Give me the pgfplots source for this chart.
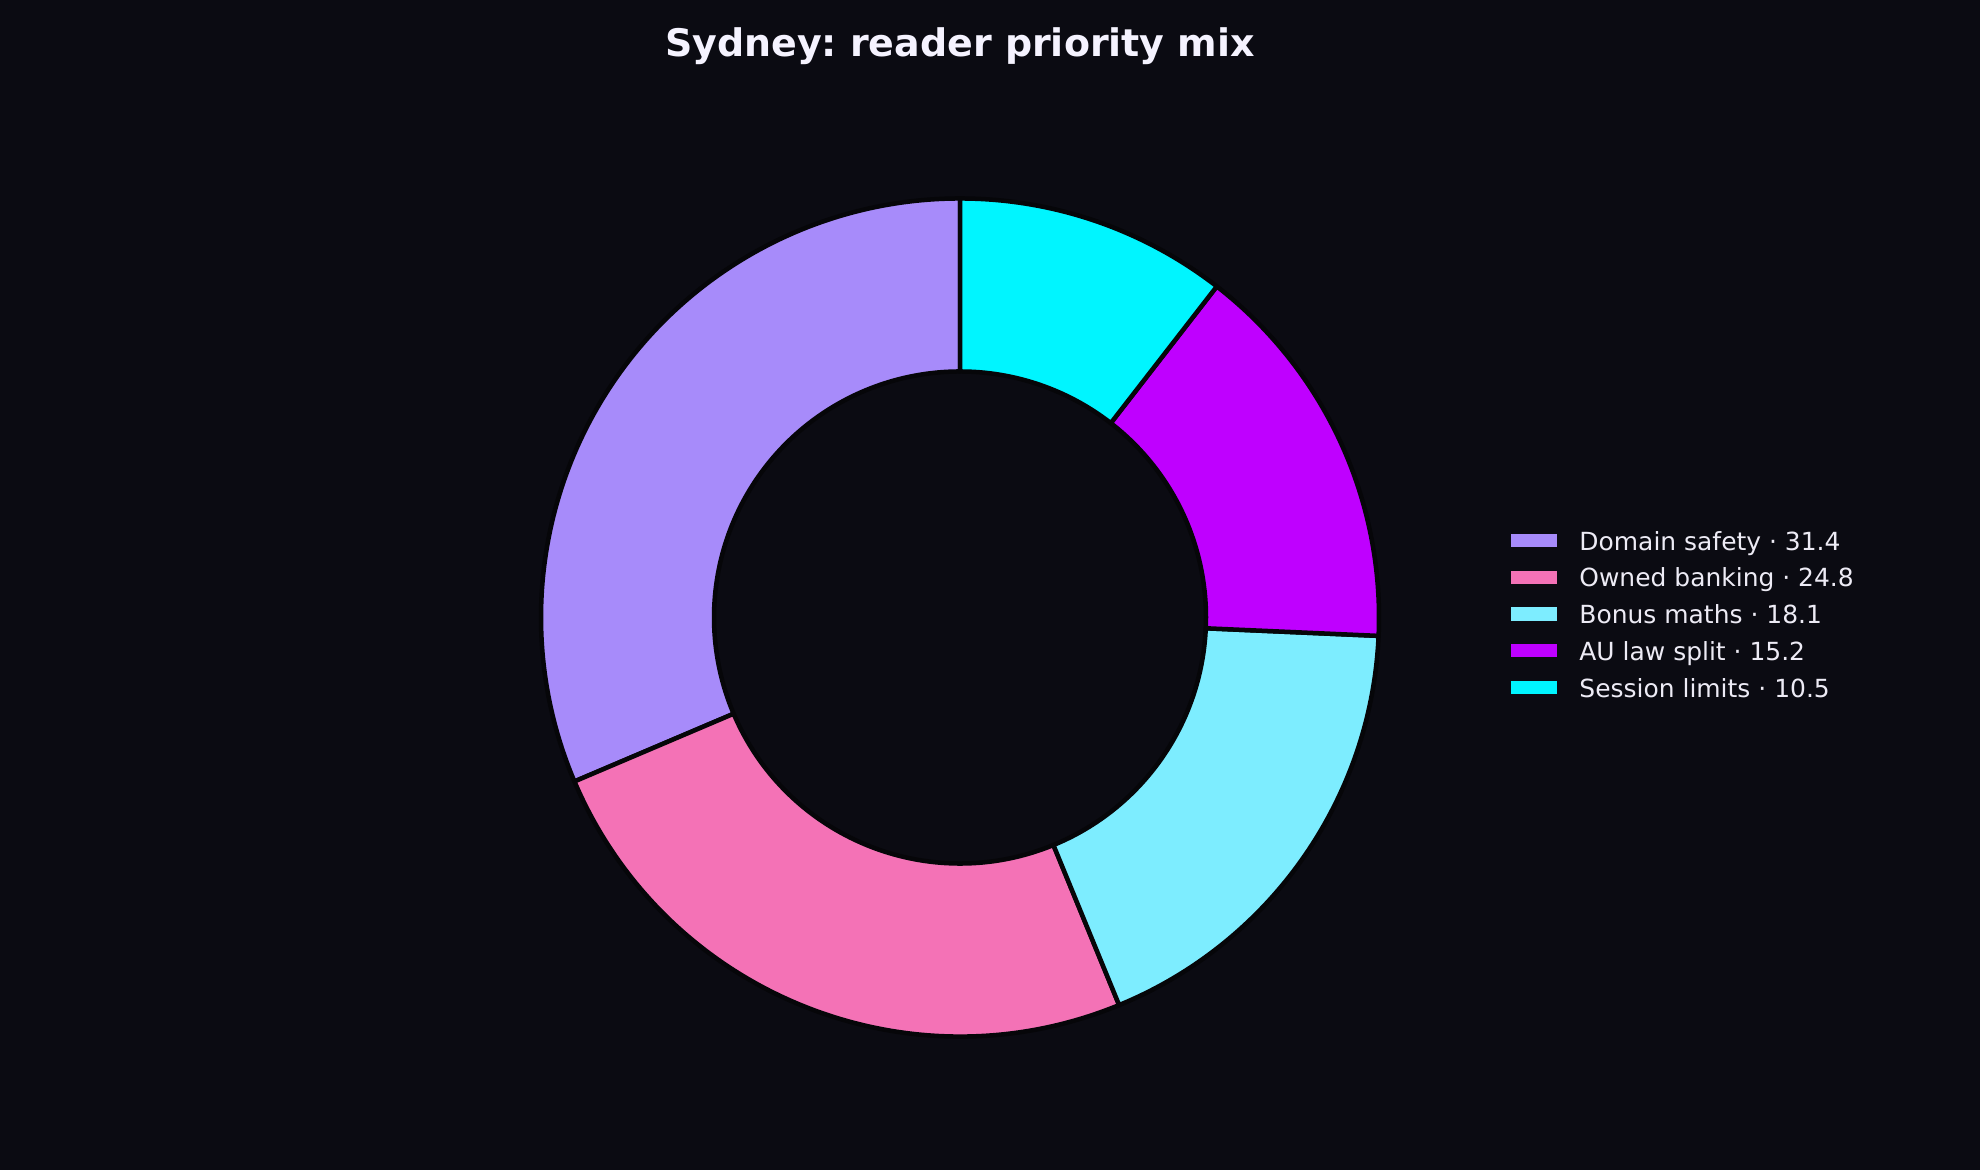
\documentclass[border=0pt]{standalone}
\usepackage{pgfplots}
\pgfplotsset{compat=1.18}
\usepackage{pgfplotstable}
\usepackage{fontspec}
\setmainfont{DejaVu Sans}
\definecolor{bg}{HTML}{0B0B12}
\definecolor{edge}{HTML}{060609}
\definecolor{cA}{HTML}{A78BFA}
\definecolor{cB}{HTML}{F472B6}
\definecolor{cC}{HTML}{7DEDFF}
\definecolor{cD}{HTML}{BF00FF}
\definecolor{cE}{HTML}{00F5FF}
\definecolor{fg}{HTML}{EDEBF5}
\definecolor{fgT}{HTML}{F5F3FF}

\pgfplotstableread[col sep=comma]{
label,value
Domain safety,31.4
Owned banking,24.8
Bonus maths,18.1
AU law split,15.2
Session limits,10.5
}\slices

\newcommand\donutwedge[3]{%
  \fill[#1, draw=edge, line width=0.45mm, line join=round]
    (axis cs:{4.19*cos(#2)},{4.19*sin(#2)})
    arc[start angle=#2, end angle=#3, radius=4.19cm]
    -- (axis cs:{2.46*cos(#3)},{2.46*sin(#3)})
    arc[start angle=#3, end angle=#2, radius=2.46cm] -- cycle;}

\begin{document}
\frenchspacing
\begin{tikzpicture}
\fill[bg] (0,0) rectangle (19.8,11.7);
\pgfmathsetmacro\aO{90}
\pgfplotstablegetelem{0}{value}\of\slices \pgfmathsetmacro\aA{\aO+3.6*\pgfplotsretval}
\pgfplotstablegetelem{1}{value}\of\slices \pgfmathsetmacro\aB{\aA+3.6*\pgfplotsretval}
\pgfplotstablegetelem{2}{value}\of\slices \pgfmathsetmacro\aC{\aB+3.6*\pgfplotsretval}
\pgfplotstablegetelem{3}{value}\of\slices \pgfmathsetmacro\aD{\aC+3.6*\pgfplotsretval}
\pgfplotstablegetelem{4}{value}\of\slices \pgfmathsetmacro\aE{\aD+3.6*\pgfplotsretval}
\begin{axis}[
  at={(0,0)}, anchor=south west, scale only axis,
  x=1cm, y=1cm, xmin=-9.6, xmax=10.2, ymin=-5.525, ymax=6.175,
  hide axis, clip=false,
  legend cell align=left,
  legend style={draw=none, fill=none, text=fg,
    font=\fontsize{7.1}{8.5}\selectfont,
    at={(axis cs:5.51,0.006)}, anchor=west,
    inner sep=0pt, outer sep=0pt, row sep=1.22mm, column sep=2.2mm,
    nodes={inner sep=0pt, text height=1.9mm, text depth=0.55mm}},
]
\donutwedge{cA}{\aO}{\aA}
\donutwedge{cB}{\aA}{\aB}
\donutwedge{cC}{\aB}{\aC}
\donutwedge{cD}{\aC}{\aD}
\donutwedge{cE}{\aD}{\aE}
\addlegendimage{legend image code/.code={\fill[cA] (0cm,-0.3mm) rectangle (4.5mm,0.87mm);}}
\addlegendentry{Domain safety · 31.4}
\addlegendimage{legend image code/.code={\fill[cB] (0cm,-0.3mm) rectangle (4.5mm,0.87mm);}}
\addlegendentry{Owned banking · 24.8}
\addlegendimage{legend image code/.code={\fill[cC] (0cm,-0.3mm) rectangle (4.5mm,0.87mm);}}
\addlegendentry{Bonus maths · 18.1}
\addlegendimage{legend image code/.code={\fill[cD] (0cm,-0.3mm) rectangle (4.5mm,0.87mm);}}
\addlegendentry{AU law split · 15.2}
\addlegendimage{legend image code/.code={\fill[cE] (0cm,-0.3mm) rectangle (4.5mm,0.87mm);}}
\addlegendentry{Session limits · 10.5}
\end{axis}
\node[text=fgT, font=\fontsize{10.8}{13}\bfseries\selectfont, anchor=base] at (9.6,11.13) {Sydney: reader priority mix};
\end{tikzpicture}
\end{document}
